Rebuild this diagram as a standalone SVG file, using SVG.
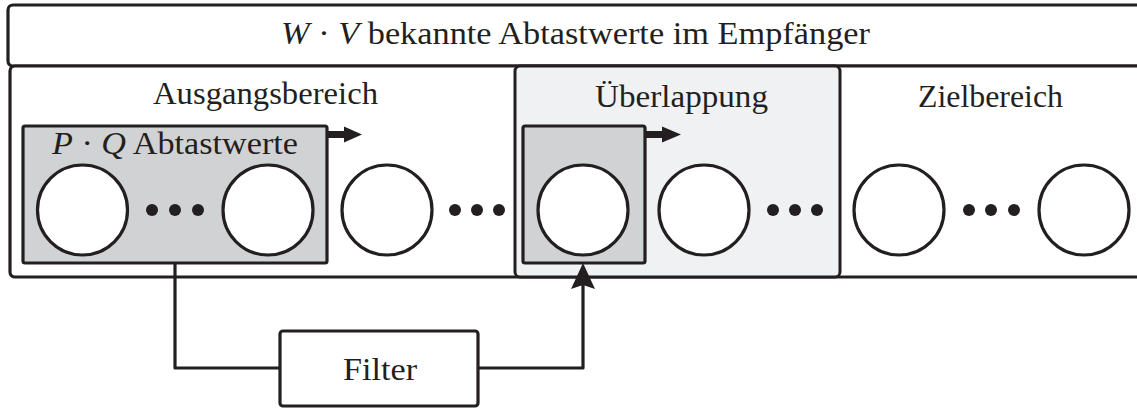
<svg xmlns="http://www.w3.org/2000/svg" width="1137" height="410" viewBox="0 0 1137 410">
  <defs>
    <style>
      .frame { fill: #ffffff; stroke: #231f20; stroke-width: 3.2; }
      .lbl { font-family: "Liberation Serif", "DejaVu Serif", serif; font-size: 32px; fill: #231f20; }
      .it { font-style: italic; }
      .win { fill: #d1d2d4; stroke: #231f20; stroke-width: 3.2; }
      .smp { fill: #ffffff; stroke: #231f20; stroke-width: 3.2; }
      .dot { fill: #231f20; }
      .wire { fill: none; stroke: #231f20; stroke-width: 3.2; stroke-linejoin: round; }
      .head { fill: #231f20; }
    </style>
  </defs>

  <!-- header: all known samples -->
  <g id="header">
    <rect class="frame" x="8" y="5" width="1150" height="61" rx="5"/>
    <text class="lbl" x="281" y="44" textLength="589" lengthAdjust="spacingAndGlyphs"><tspan class="it">W</tspan> · <tspan class="it">V</tspan>  bekannte Abtastwerte im Empfänger</text>
  </g>

  <!-- sample row frame -->
  <g id="row">
    <rect class="frame" x="10" y="66" width="1150" height="211" rx="5"/>
  </g>

  <!-- overlap region -->
  <g id="overlap">
    <rect x="515" y="66" width="325" height="211" rx="5" fill="#f0f1f3" stroke="#231f20" stroke-width="3"/>
    <text class="lbl" x="595" y="107" textLength="173" lengthAdjust="spacingAndGlyphs">Überlappung</text>
  </g>

  <g id="source-label">
    <text class="lbl" x="153" y="104" textLength="225" lengthAdjust="spacingAndGlyphs">Ausgangsbereich</text>
  </g>

  <g id="target-label">
    <text class="lbl" x="918" y="107" textLength="145" lengthAdjust="spacingAndGlyphs">Zielbereich</text>
  </g>

  <!-- filter window P·Q -->
  <g id="window-source">
    <rect class="win" x="23" y="126" width="304" height="137" rx="2"/>
    <text class="lbl" x="52" y="154" textLength="246" lengthAdjust="spacingAndGlyphs"><tspan class="it">P</tspan> · <tspan class="it">Q</tspan>  Abtastwerte</text>
  </g>

  <g id="window-overlap">
    <rect class="win" x="523" y="126" width="122" height="137" rx="2"/>
  </g>

  <!-- samples -->
  <g id="samples">
    <circle class="smp" cx="82.5" cy="210" r="45"/>
    <circle class="smp" cx="268" cy="210" r="45"/>
    <circle class="smp" cx="387" cy="210" r="45"/>
    <circle class="smp" cx="583" cy="210" r="45"/>
    <circle class="smp" cx="704" cy="210" r="45"/>
    <circle class="smp" cx="899" cy="210" r="45"/>
    <circle class="smp" cx="1084" cy="210" r="45"/>
  </g>

  <!-- ellipsis dots -->
  <g id="ellipses">
    <circle class="dot" cx="152" cy="210" r="6"/>
    <circle class="dot" cx="175" cy="210" r="6"/>
    <circle class="dot" cx="198" cy="210" r="6"/>
    <circle class="dot" cx="455" cy="210" r="6"/>
    <circle class="dot" cx="477" cy="210" r="6"/>
    <circle class="dot" cx="499" cy="210" r="6"/>
    <circle class="dot" cx="773" cy="210" r="6"/>
    <circle class="dot" cx="795" cy="210" r="6"/>
    <circle class="dot" cx="817" cy="210" r="6"/>
    <circle class="dot" cx="969" cy="210" r="6"/>
    <circle class="dot" cx="991" cy="210" r="6"/>
    <circle class="dot" cx="1014" cy="210" r="6"/>
  </g>

  <!-- filter block -->
  <g id="filter">
    <rect class="frame" x="280" y="331" width="198" height="75" rx="3"/>
    <text class="lbl" x="343" y="380" textLength="74" lengthAdjust="spacingAndGlyphs">Filter</text>
  </g>

  <!-- connectors -->
  <g id="connectors">
    <!-- window shift arrows -->
    <rect class="head" x="327" y="131" width="20" height="7"/>
    <polygon class="head" points="344,126.5 362,134.5 344,142.5"/>
    <rect class="head" x="645" y="131" width="20" height="7"/>
    <polygon class="head" points="662,126.5 681,134.5 662,142.5"/>
    <!-- window -> filter -> overlap sample -->
    <polyline class="wire" points="175,263 175,368 280,368"/>
    <polyline class="wire" points="478,368 583,368 583,283"/>
    <polygon class="head" points="583,263 595,289 583,285 571,289"/>
  </g>
</svg>
